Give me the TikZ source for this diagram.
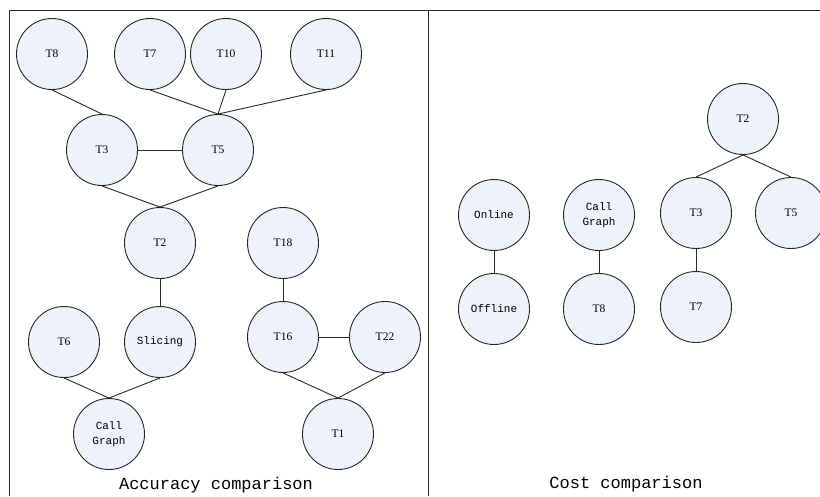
\documentclass[tikz,border=0pt]{standalone}
\usepackage{fontspec}
\setmainfont{Liberation Serif}
\setmonofont{Liberation Mono}
\definecolor{nodefill}{RGB}{238,242,250}
\definecolor{linecol}{RGB}{40,40,40}
\tikzset{
  tnode/.style={circle, draw=linecol, line width=0.9pt, fill=nodefill, minimum size=71pt, inner sep=0pt, font=\fontsize{11.5}{13}\selectfont},
  wnode/.style={tnode, align=center, font=\ttfamily\fontsize{11}{15}\selectfont},
  conn/.style={draw=linecol, line width=0.9pt},
  caption/.style={font=\ttfamily\fontsize{17}{19}\selectfont, inner sep=0pt}
}
\begin{document}
\begin{tikzpicture}[x=1pt,y=-1pt]
\useasboundingbox (0,0) rectangle (820,496);
\draw[conn] (9,496) -- (9,10) -- (820,10);
\draw[conn] (428,10) -- (428,496);
% left panel
\node[tnode] (T8) at (52,54) {T8};
\node[tnode] (T7) at (150,54) {T7};
\node[tnode] (T10) at (226,54) {T10};
\node[tnode] (T11) at (326,54) {T11};
\node[tnode] (T3) at (102,150) {T3};
\node[tnode] (T5) at (218,150) {T5};
\node[tnode] (T2) at (160,243) {T2};
\node[tnode] (T6) at (64,342) {T6};
\node[wnode] (Sl) at (160,342) {Slicing};
\node[wnode] (CG) at (109,434) {Call\\Graph};
\node[tnode] (T18) at (283,243) {T18};
\node[tnode] (T16) at (283,337) {T16};
\node[tnode] (T22) at (385,337) {T22};
\node[tnode] (T1) at (338,434) {T1};
\node[caption] (capA) at (216,485) {Accuracy comparison};
\draw[conn] (T8.south) -- (T3.north);
\draw[conn] (T7.south) -- (T5.north);
\draw[conn] (T10.south) -- (T5.north);
\draw[conn] (T11.south) -- (T5.north);
\draw[conn] (T3.east) -- (T5.west);
\draw[conn] (T3.south) -- (T2.north);
\draw[conn] (T5.south) -- (T2.north);
\draw[conn] (T2.south) -- (Sl.north);
\draw[conn] (T6.south) -- (CG.north);
\draw[conn] (Sl.south) -- (CG.north);
\draw[conn] (T18.south) -- (T16.north);
\draw[conn] (T16.east) -- (T22.west);
\draw[conn] (T16.south) -- (T1.north);
\draw[conn] (T22.south) -- (T1.north);
% right panel
\node[tnode] (rT2) at (743,119) {T2};
\node[wnode] (On) at (494,215) {Online};
\node[wnode] (Off) at (494,309) {Offline};
\node[wnode] (rCG) at (599,215) {Call\\Graph};
\node[tnode] (rT8) at (599,309) {T8};
\node[tnode] (rT3) at (696,213) {T3};
\node[tnode] (rT5) at (791,213) {T5};
\node[tnode] (rT7) at (696,307) {T7};
\node[caption] (capB) at (626,484) {Cost comparison};
\draw[conn] (rT2.south) -- (rT3.north);
\draw[conn] (rT2.south) -- (rT5.north);
\draw[conn] (On.south) -- (Off.north);
\draw[conn] (rCG.south) -- (rT8.north);
\draw[conn] (rT3.south) -- (rT7.north);
\end{tikzpicture}
\end{document}
